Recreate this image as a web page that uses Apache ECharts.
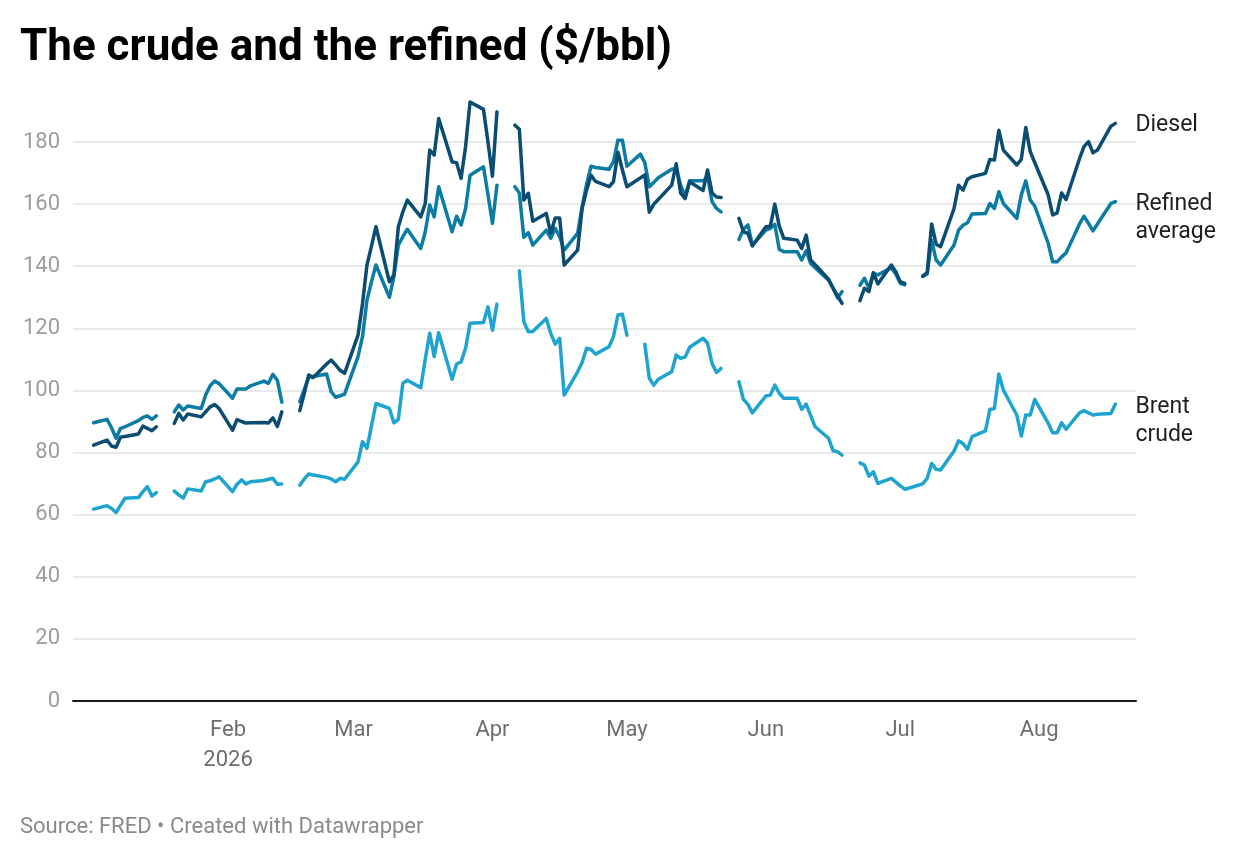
<!DOCTYPE html>
<html lang="en">
<head>
    <meta charset="UTF-8">
    <title>The crude and the refined</title>
    <script type="text/javascript" src="https://cdn.jsdelivr.net/npm/echarts@6.0.0/dist/echarts.min.js"></script>
    <style>
        body {
            margin: 0;
            padding: 0;
            border: none;
            overflow: hidden;
            background: #fff;
        }
        #chart {
            width: 100vw;
            height: 100vh;
        }
    </style>
</head>
<body>
<div id="chart"></div>
</body>
<script>
    // business days, Jan 2 2026 -> Aug 18 2026 (one row per week, null = no quote that day)
    const firstDay = '2026-01-02'
    const lastDay = '2026-08-18'

    const diesel = [
        82.4,
        84.0, 82.1, 81.7, 84.9, 85.2,
        86.0, 88.5, 87.8, 87.0, 88.3,
        null, 89.4, 92.6, 90.5, 92.4,
        91.5, 93.1, 94.7, 95.5, 94.2,
        87.2, 90.6, 90.0, 89.5, 89.6,
        89.7, 89.5, 91.2, 88.4, 93.1,
        null, 93.5, 99.0, 105.0, 104.2,
        108.5, 109.8, 108.2, 106.5, 105.5,
        117.8, 128.0, 140.4, 146.5, 152.7,
        135.0, 137.2, 152.7, 157.5, 161.3,
        155.9, 160.2, 177.4, 175.8, 187.6,
        173.6, 173.3, 168.3, 178.5, 192.9,
        190.5, 180.0, 169.0, 189.7, null,
        185.4, 184.1, 161.3, 163.5, 154.5,
        157.0, 150.6, 155.5, 155.5, 140.4,
        145.2, 158.5, 164.5, 169.3, 167.3,
        165.6, 167.2, 176.7, 171.0, 165.6,
        168.4, 169.4, 157.4, 160.0, 161.5,
        166.1, 173.0, 163.5, 161.8, 167.2,
        164.4, 171.0, 163.6, 162.3, 162.1,
        null, 155.4, 151.1, 150.6, 146.5,
        152.7, 152.9, 160.0, 152.9, 149.0,
        148.4, 145.7, 150.0, 142.0, 140.5,
        135.8, 132.9, 130.5, 128.0, null,
        128.9, 132.9, 131.8, 137.9, 134.3,
        140.4, 138.2, 135.0, 134.5, null,
        136.8, 137.9, 153.6, 147.1, 146.3,
        158.6, 166.1, 164.5, 168.0, 168.8,
        169.9, 174.4, 174.2, 183.8, 177.4,
        172.6, 174.4, 184.7, 176.9, 173.4,
        163.0, 156.5, 157.2, 163.6, 161.5,
        174.7, 178.5, 180.1, 176.5, 177.4,
        185.1, 186.0
    ]

    const refined = [
        89.6,
        90.7, 88.0, 84.6, 87.8, 88.3,
        90.3, 91.3, 91.8, 90.7, 91.8,
        null, 93.1, 95.3, 93.7, 95.0,
        94.2, 98.5, 101.5, 103.0, 102.2,
        97.5, 100.5, 100.5, 100.5, 101.5,
        103.0, 102.3, 105.2, 103.3, 96.2,
        null, 96.4, 100.3, 104.2, 104.5,
        105.3, 99.6, 97.8, 98.3, 98.8,
        110.9, 117.3, 129.1, 135.0, 140.4,
        130.0, 136.6, 146.8, 149.5, 151.9,
        145.7, 151.0, 159.7, 155.9, 165.6,
        151.1, 156.1, 153.3, 158.6, 169.3,
        172.0, 163.0, 153.8, 166.1, null,
        165.6, 163.6, 149.3, 150.8, 146.8,
        151.6, 149.0, 152.2, 149.5, 145.2,
        150.6, 159.1, 166.4, 172.2, 171.8,
        171.2, 173.6, 180.6, 180.6, 172.2,
        176.1, 173.3, 165.6, 167.0, 168.5,
        171.2, 171.5, 166.0, 162.6, 167.5,
        167.5, 168.8, 160.8, 158.6, 157.5,
        null, 148.6, 151.9, 153.3, 146.8,
        151.6, 152.2, 153.5, 145.4, 144.7,
        144.7, 142.0, 145.0, 140.9, 139.5,
        135.5, 133.0, 129.8, 131.8, null,
        133.9, 136.1, 132.9, 137.7, 137.2,
        139.5, 137.5, 134.5, 134.0, null,
        136.7, 137.5, 148.4, 142.0, 140.4,
        146.8, 151.6, 153.2, 154.0, 156.8,
        157.0, 160.2, 158.6, 164.0, 160.2,
        155.4, 162.9, 167.5, 161.3, 159.4,
        147.4, 141.4, 141.4, 143.0, 144.3,
        153.6, 156.1, 153.8, 151.4, 153.6,
        160.2, 160.8
    ]

    const brent = [
        61.8,
        62.9, 62.0, 60.7, 63.0, 65.3,
        65.5, 67.4, 69.0, 66.0, 67.1,
        null, 67.6, 66.4, 65.3, 68.3,
        67.6, 70.6, 70.9, 71.5, 72.2,
        67.4, 69.8, 71.2, 69.9, 70.6,
        71.0, 71.4, 71.7, 69.8, 69.9,
        null, 69.5, 71.5, 73.1, 72.8,
        72.0, 71.5, 70.6, 71.7, 71.4,
        77.0, 83.5, 81.4, 88.5, 95.8,
        94.2, 89.6, 90.7, 102.3, 103.3,
        100.9, 110.0, 118.4, 110.9, 118.6,
        103.6, 108.5, 109.2, 113.6, 121.6,
        121.9, 126.9, 119.4, 127.8, null,
        null, 138.5, 122.1, 118.9, 119.0,
        123.2, 118.4, 114.9, 116.8, 98.5,
        106.0, 109.0, 113.6, 113.2, 111.7,
        114.1, 117.3, 124.3, 124.5, 117.8,
        null, 114.9, 103.9, 101.7, 103.6,
        106.0, 111.4, 110.3, 110.8, 113.9,
        116.8, 115.2, 108.7, 105.8, 107.1,
        null, 102.8, 97.1, 95.5, 92.8,
        98.2, 98.5, 101.7, 99.1, 97.5,
        97.5, 93.9, 95.6, 92.0, 88.3,
        84.6, 80.6, 80.3, 79.2, null,
        76.7, 76.0, 72.4, 73.8, 70.1,
        71.7, 70.5, 69.3, 68.2, 68.6,
        69.9, 71.7, 76.5, 74.6, 74.4,
        80.5, 83.8, 82.9, 81.0, 85.1,
        87.0, 93.9, 94.2, 105.3, 100.1,
        92.1, 85.3, 92.1, 92.1, 97.1,
        89.5, 86.4, 86.4, 89.6, 87.5,
        92.8, 93.5, 92.8, 92.1, 92.3,
        92.6, 95.6
    ]

    const monthTicks = ['2026-02-01', '2026-03-01', '2026-04-01', '2026-05-01', '2026-06-01', '2026-07-01', '2026-08-01']
    const monthNames = ['Jan', 'Feb', 'Mar', 'Apr', 'May', 'Jun', 'Jul', 'Aug', 'Sep', 'Oct', 'Nov', 'Dec']
    const yTicks = [0, 20, 40, 60, 80, 100, 120, 140, 160, 180]

    const DAY = 864e5

    function toTime(s) {
        const p = s.split('-')
        return new Date(+p[0], +p[1] - 1, +p[2]).getTime()
    }

    // weekdays only, same order as the value arrays
    function businessDays(from, to) {
        const out = []
        const end = toTime(to)
        const d = new Date(toTime(from))
        while (d.getTime() <= end) {
            if (d.getDay() !== 0 && d.getDay() !== 6) out.push(d.getTime())
            d.setDate(d.getDate() + 1)
        }
        return out
    }

    const days = businessDays(firstDay, lastDay)

    function pairs(values) {
        return days.map((t, i) => [t, values[i] == null ? '-' : values[i]])
    }

    function lineSeries(name, values, color, label, twoLines) {
        return {
            name: name,
            type: 'line',
            data: pairs(values),
            showSymbol: false,
            connectNulls: false,
            clip: false,
            lineStyle: { color: color, width: 3.5, join: 'round', cap: 'round' },
            itemStyle: { color: color },
            emphasis: { disabled: true },
            endLabel: {
                show: true,
                formatter: label,
                distance: 20,
                color: '#1f1f1f',
                fontFamily: 'Roboto',
                fontSize: 23,
                lineHeight: 28,
                align: 'left',
                verticalAlign: 'middle',
                // first line sits on the last value
                offset: [0, twoLines ? 17 : 2]
            }
        }
    }

    function buildChart() {
        const feb1 = toTime('2026-02-01')
        window.chart = echarts.init(document.getElementById('chart'))
        window.chart.setOption({
            animation: false,
            backgroundColor: '#fff',
            title: {
                text: 'The crude and the refined ($/bbl)',
                left: 20,
                top: 27,
                padding: 0,
                textStyle: { fontFamily: 'Roboto', fontWeight: 'bold', fontSize: 44, color: '#000' }
            },
            graphic: [{
                type: 'text',
                left: 20,
                top: 816,
                style: { text: 'Source: FRED • Created with Datawrapper', fontFamily: 'Roboto', fontSize: 22, fill: '#8a8a8a' }
            }],
            grid: { left: 73, right: 104, top: 142, bottom: 157 },
            xAxis: {
                // plain value axis on timestamps, labels only at month starts
                type: 'value',
                min: feb1 - 34.6 * DAY,
                max: feb1 + 202.6 * DAY,
                axisLine: { lineStyle: { color: '#1a1a1a', width: 2 } },
                axisTick: { show: false },
                splitLine: { show: false },
                axisLabel: {
                    customValues: monthTicks.map(toTime),
                    formatter: function (v) {
                        const d = new Date(v)
                        const m = monthNames[d.getMonth()]
                        return d.getMonth() === 1 ? m + '\n' + d.getFullYear() : m
                    },
                    color: '#6e6e6e',
                    fontFamily: 'Roboto',
                    fontSize: 22,
                    lineHeight: 30,
                    margin: 14
                }
            },
            yAxis: {
                type: 'value',
                min: yTicks[0],
                max: yTicks[yTicks.length - 1],
                interval: 20,
                axisLine: { show: false },
                axisTick: { show: false },
                splitLine: { lineStyle: { color: '#e2e2e2', width: 1.5 } },
                axisLabel: { color: '#9d9d9d', fontFamily: 'Roboto', fontSize: 22, margin: 13 }
            },
            series: [
                lineSeries('Brent crude', brent, '#1ea4cf', 'Brent\ncrude', true),
                lineSeries('Refined average', refined, '#0b7ca4', 'Refined\naverage', true),
                lineSeries('Diesel', diesel, '#0b4d72', 'Diesel', false)
            ]
        })
    }

    window.chart = null
    window.onresize = function () {
        if (window.chart) window.chart.resize()
    }
    window.onload = function () {
        buildChart()
    }
</script>
</html>
